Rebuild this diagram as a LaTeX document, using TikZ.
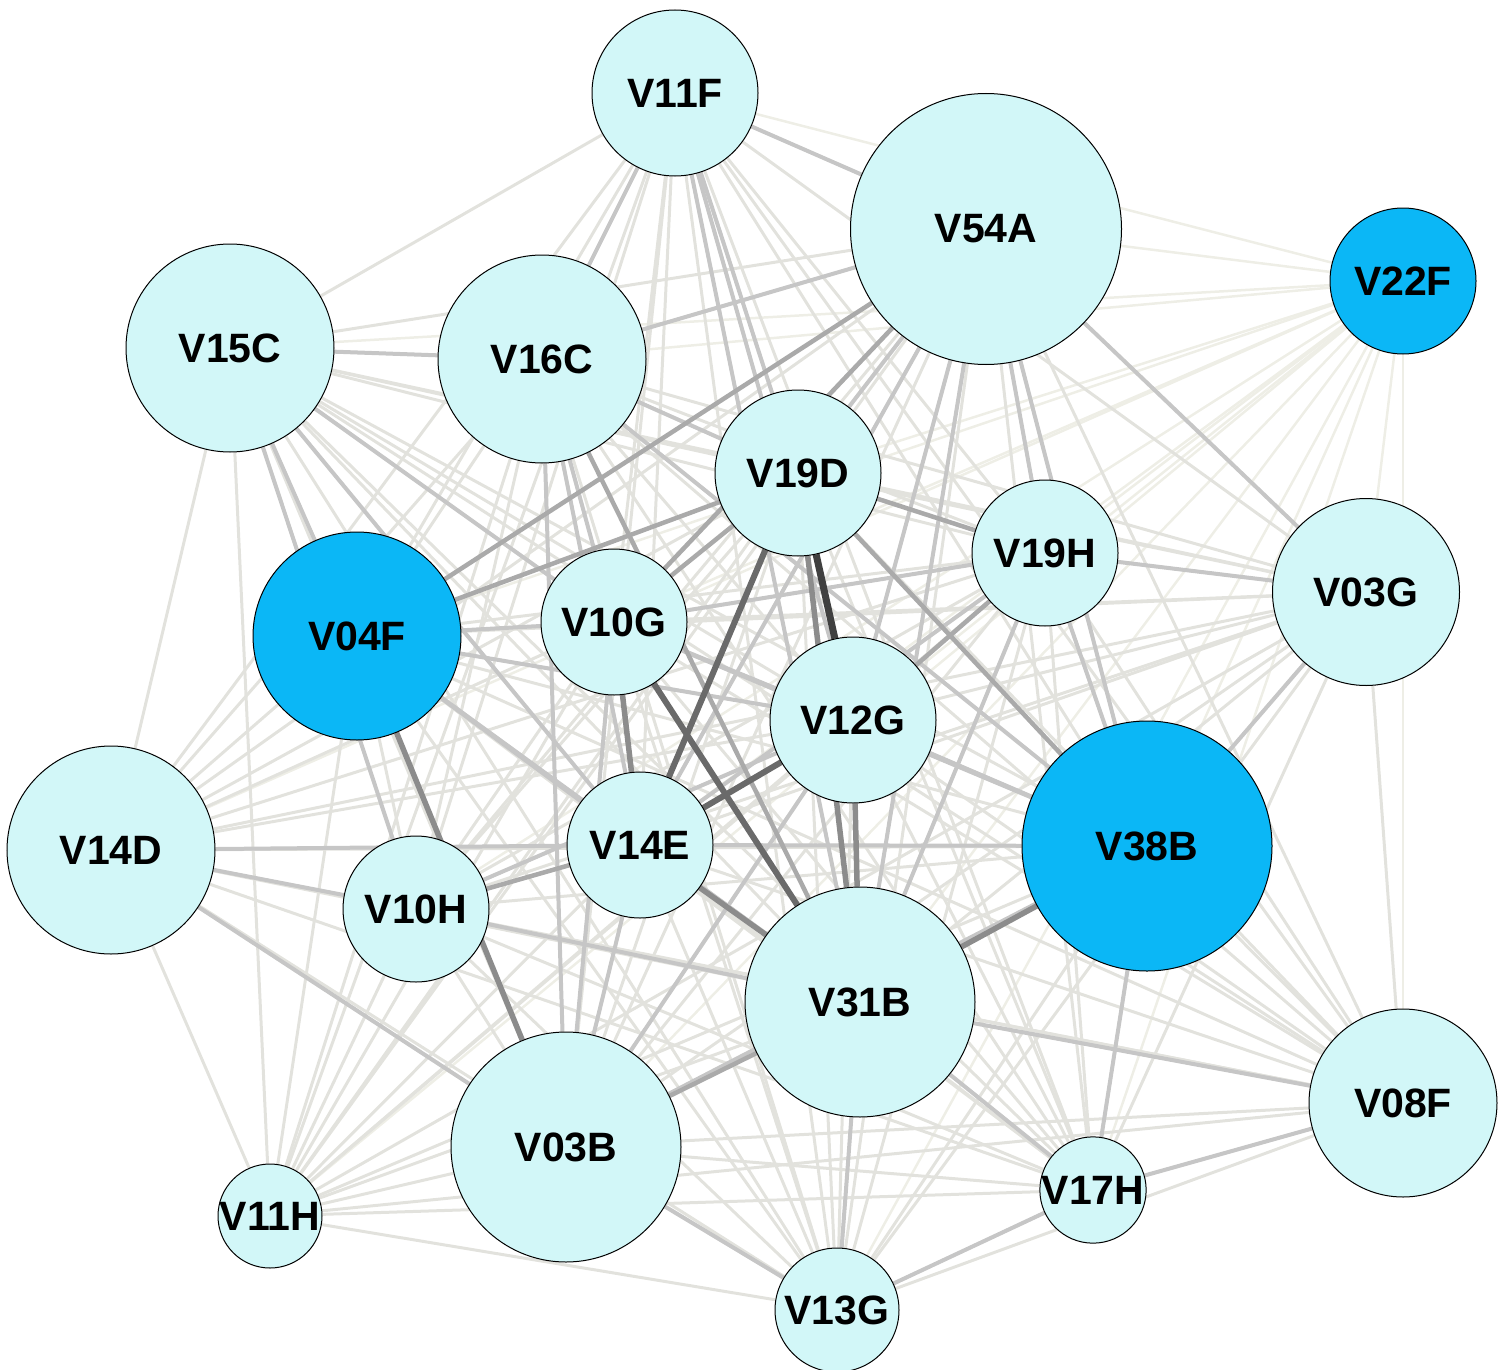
\documentclass[tikz,border=0pt]{standalone}
\usepackage{fontspec}
\setmainfont{Liberation Sans}
\usetikzlibrary{backgrounds}
\definecolor{lcyan}{RGB}{210,247,248}
\definecolor{hblue}{RGB}{11,183,246}
\definecolor{cA}{RGB}{238,238,230}
\definecolor{cB}{RGB}{226,226,221}
\definecolor{cC}{RGB}{198,198,198}
\definecolor{cD}{RGB}{170,170,170}
\definecolor{cE}{RGB}{140,140,140}
\definecolor{cF}{RGB}{106,106,106}
\definecolor{cG}{RGB}{64,64,64}
\begin{document}
\begin{tikzpicture}[x=1pt,y=-1pt,
  vnode/.style={circle,draw=black,line width=1pt,fill=lcyan,inner sep=0pt,
    font=\fontsize{41}{41}\selectfont\bfseries},
  hub/.style={vnode,fill=hblue},
  eA/.style={draw=cA,line width=2.5pt},
  eB/.style={draw=cB,line width=3pt},
  eC/.style={draw=cC,line width=4pt},
  eD/.style={draw=cD,line width=4.5pt},
  eE/.style={draw=cE,line width=5.5pt},
  eF/.style={draw=cF,line width=6pt},
  eG/.style={draw=cG,line width=7pt}]
\useasboundingbox (0,0) rectangle (1510,1370);
% nodes
\node[vnode,minimum size=166pt] (V11F) at (675,93) {V11F};
\node[vnode,minimum size=271pt] (V54A) at (986,229) {V54A};
\node[hub,minimum size=146pt] (V22F) at (1403,281) {V22F};
\node[vnode,minimum size=208pt] (V15C) at (230,348) {V15C};
\node[vnode,minimum size=208pt] (V16C) at (542,359) {V16C};
\node[vnode,minimum size=166pt] (V19D) at (798,473) {V19D};
\node[vnode,minimum size=146pt] (V19H) at (1045,553) {V19H};
\node[vnode,minimum size=187pt] (V03G) at (1366,592) {V03G};
\node[hub,minimum size=208pt] (V04F) at (357,636) {V04F};
\node[vnode,minimum size=146pt] (V10G) at (614,622) {V10G};
\node[vnode,minimum size=166pt] (V12G) at (853,720) {V12G};
\node[vnode,minimum size=208pt] (V14D) at (111,850) {V14D};
\node[vnode,minimum size=146pt] (V14E) at (640,845) {V14E};
\node[hub,minimum size=250pt] (V38B) at (1147,846) {V38B};
\node[vnode,minimum size=146pt] (V10H) at (416,909) {V10H};
\node[vnode,minimum size=230pt] (V31B) at (860,1002) {V31B};
\node[vnode,minimum size=188pt] (V08F) at (1403,1103) {V08F};
\node[vnode,minimum size=230pt] (V03B) at (566,1147) {V03B};
\node[vnode,minimum size=104pt] (V17H) at (1093,1190) {V17H};
\node[vnode,minimum size=104pt] (V11H) at (270,1216) {V11H};
\node[vnode,minimum size=124pt] (V13G) at (837,1310) {V13G};
% edges
\begin{pgfonlayer}{background}
\foreach \b in {V11F,V54A,V15C,V16C,V19D,V19H,V03G,V04F,V10G,V12G,V14D,V14E,V38B,V10H,V31B,V08F,V03B,V17H,V11H,V13G}
  \draw[eA] (V22F) -- (\b);
\foreach \a [count=\i] in {V11F,V54A,V15C,V16C,V19D,V19H,V03G,V04F,V10G,V12G,V14D,V14E,V38B,V10H,V31B,V08F,V03B,V17H,V11H,V13G}{
  \foreach \b [count=\j] in {V11F,V54A,V15C,V16C,V19D,V19H,V03G,V04F,V10G,V12G,V14D,V14E,V38B,V10H,V31B,V08F,V03B,V17H,V11H,V13G}{
    \ifnum\i<\j \draw[eB] (\a) -- (\b);\fi
  }
}
\foreach \a/\b in {V15C/V16C,V15C/V04F,V15C/V10G,V15C/V14E,V15C/V10H,V11F/V54A,V11F/V19D,
  V11F/V12G,V11F/V31B,V11F/V16C,V16C/V54A,V16C/V10G,V16C/V14E,V16C/V38B,V16C/V03B,V16C/V19D,
  V54A/V19D,V54A/V12G,V54A/V31B,V54A/V14E,V54A/V19H,V54A/V03G,V54A/V38B,V19H/V38B,V19H/V31B,
  V19H/V14E,V19H/V10G,V19H/V03G,V04F/V10G,V04F/V12G,V04F/V14E,V04F/V31B,V10G/V12G,V10G/V03B,
  V10G/V38B,V12G/V38B,V12G/V03B,V12G/V10H,V14D/V10H,V14D/V03B,V14D/V14E,V14E/V03B,V14E/V38B,
  V10H/V31B,V38B/V03G,V38B/V17H,V31B/V13G,V31B/V17H,V03B/V13G,V17H/V13G,V17H/V08F,V31B/V08F,
  V03B/V38B}
  \draw[eC] (\a) -- (\b);
\foreach \a/\b in {V19D/V04F,V54A/V04F,V19D/V19H,V19D/V38B,V10H/V14E,V03B/V31B,V19D/V10G,
  V16C/V31B,V19H/V12G,V54A/V10G}
  \draw[eD] (\a) -- (\b);
\foreach \a/\b in {V12G/V31B,V38B/V31B,V10G/V14E,V14E/V31B,V04F/V03B,V19D/V31B}
  \draw[eE] (\a) -- (\b);
\foreach \a/\b in {V19D/V14E,V12G/V14E,V10G/V31B}
  \draw[eF] (\a) -- (\b);
\draw[eG] (V19D) -- (V12G);
\end{pgfonlayer}
\end{tikzpicture}
\end{document}
